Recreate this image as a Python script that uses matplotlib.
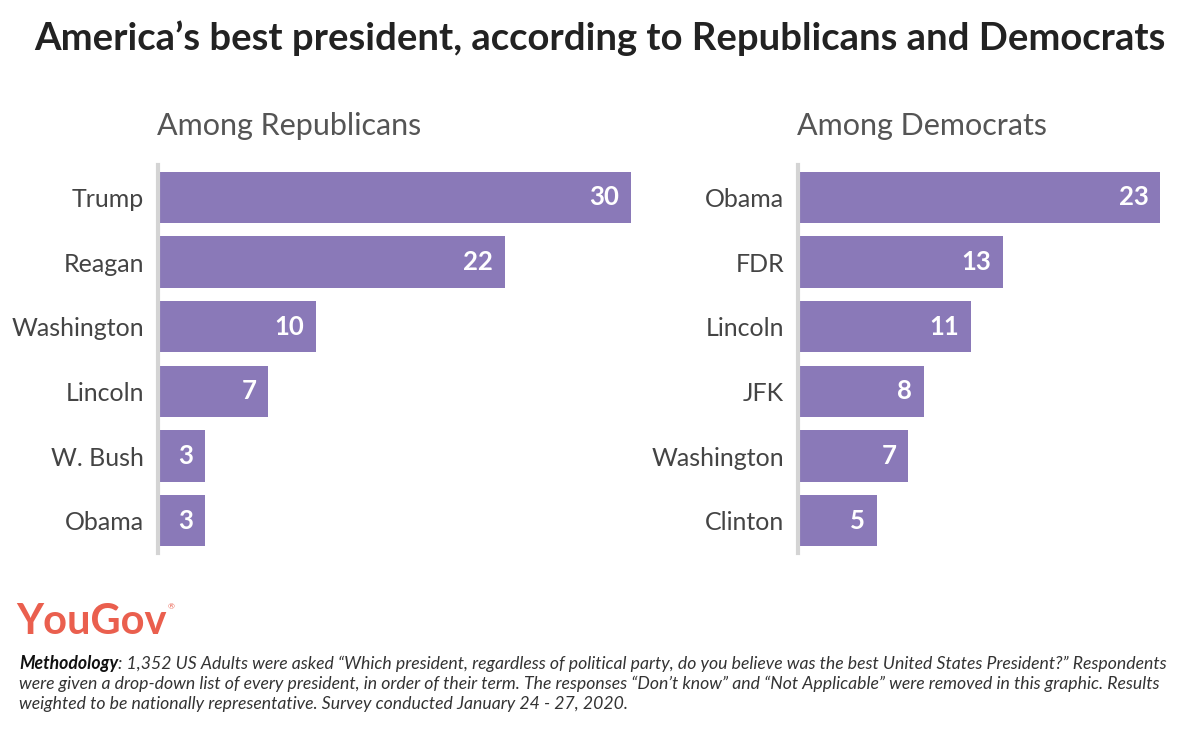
#!/usr/bin/env python3
"""
America's best president, by party - horizontal bar panels.
"""

import matplotlib
matplotlib.use('Agg')
import matplotlib.pyplot as plt

plt.rcParams['font.family'] = ['Lato', 'DejaVu Sans']

# Data
rep_names = ['Trump', 'Reagan', 'Washington', 'Lincoln', 'W. Bush', 'Obama']
rep_values = [30, 22, 10, 7, 3, 3]
dem_names = ['Obama', 'FDR', 'Lincoln', 'JFK', 'Washington', 'Clinton']
dem_values = [23, 13, 11, 8, 7, 5]

BAR_COLOR = '#8a79b8'
SPINE_COLOR = '#d4d4d4'
W, H = 1200, 729
PX_PER_UNIT = 15.75

fig = plt.figure(figsize=(W / 100, H / 100), dpi=100)


def panel(x0, names, values, subtitle):
    xmax = max(values)
    left = x0 / W
    width = xmax * PX_PER_UNIT / W
    ax = fig.add_axes([left, 176 / H, width, 388 / H])
    ypos = list(range(len(names)))
    ax.barh(ypos, values, height=0.79, color=BAR_COLOR)
    ax.set_xlim(0, xmax)
    ax.set_ylim(len(names) - 0.5, -0.5)
    for s in ['top', 'right', 'bottom']:
        ax.spines[s].set_visible(False)
    ax.spines['left'].set_color(SPINE_COLOR)
    ax.spines['left'].set_linewidth(3)
    ax.set_xticks([])
    ax.set_yticks(ypos)
    ax.set_yticklabels(names, fontsize=18, color='#444444')
    ax.tick_params(axis='y', length=0, pad=10)
    for y, v in zip(ypos, values):
        ax.text(v - 0.75, y, str(v), ha='right', va='center',
                color='white', fontsize=18.5, fontweight='bold')
    fig.text(left - 1 / W, 1 - 126 / H, subtitle, fontsize=22, color='#555555',
             ha='left', va='center')
    return ax


panel(158, rep_names, rep_values, 'Among Republicans')
panel(798, dem_names, dem_values, 'Among Democrats')

fig.text(0.5, 1 - 38 / H,
         'America\u2019s best president, according to Republicans and Democrats',
         ha='center', va='center', fontsize=27.5, fontweight='bold', color='#222222')

logo = fig.text(16 / W, 1 - 622 / H, 'YouGov', fontsize=30, fontweight='bold',
                color='#ea5f4e', ha='left', va='center')
fig.canvas.draw()
lb = logo.get_window_extent()
fig.text((lb.x1 + 1) / W, 1 - 607 / H, '\u00ae', fontsize=6, color='#ea5f4e',
         ha='left', va='center')

meth_lines = [
    ': 1,352 US Adults were asked \u201cWhich president, regardless of political party, do you believe was the best United States President?\u201d Respondents',
    'were given a drop-down list of every president, in order of their term. The responses \u201cDon\u2019t know\u201d and \u201cNot Applicable\u201d were removed in this graphic. Results',
    'weighted to be nationally representative. Survey conducted January 24 - 27, 2020.',
]
t = fig.text(19 / W, 1 - 664 / H, 'Methodology', fontsize=12.7, fontweight='bold',
             fontstyle='italic', color='#111111', ha='left', va='center')
fig.canvas.draw()
bb = t.get_window_extent()
fig.text(bb.x1 / W, 1 - 664 / H, meth_lines[0], fontsize=12.7, fontstyle='italic',
         color='#333333', ha='left', va='center')
fig.text(19 / W, 1 - 684 / H, meth_lines[1], fontsize=12.7, fontstyle='italic',
         color='#333333', ha='left', va='center')
fig.text(19 / W, 1 - 704 / H, meth_lines[2], fontsize=12.7, fontstyle='italic',
         color='#333333', ha='left', va='center')

plt.savefig('out.png', dpi=100)
plt.close()
